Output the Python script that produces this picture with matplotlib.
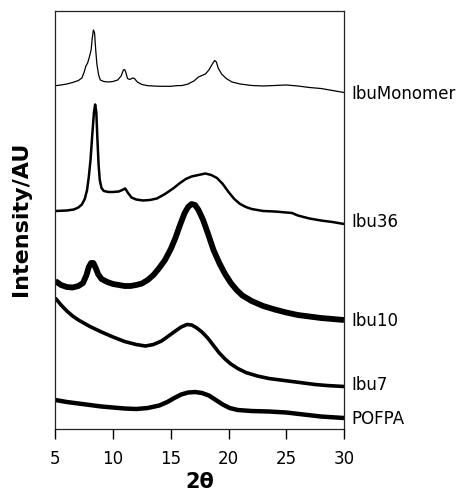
import matplotlib
matplotlib.use("Agg")
import matplotlib.pyplot as plt

# 2-theta positions and intensities (arbitrary units)
mono_x = [5.0, 5.5, 6.0, 6.5, 7.0, 7.3, 7.5, 7.65, 7.8, 7.95, 8.1, 8.2, 8.3, 8.4, 8.5, 8.6, 8.75, 8.9,
          9.2, 9.6, 10.0, 10.4, 10.7, 10.9, 11.0, 11.1, 11.25, 11.45, 11.7, 11.85, 12.1, 12.5, 13.0,
          14.0, 15.0, 15.5, 16.0, 16.5, 17.0, 17.4, 17.7, 18.0, 18.3, 18.6, 18.8, 18.95, 19.1, 19.4,
          19.8, 20.3, 21.0, 22.0, 23.0, 24.0, 25.0, 26.0, 27.0, 28.0, 29.0, 30.0]
mono_y = [343.3, 344, 345, 346.5, 348.5, 351, 357, 363, 366, 372, 379, 391, 399, 396, 379, 365, 354, 349,
          347.5, 347, 347.5, 349, 353, 359, 359.5, 357, 350.5, 349.5, 351, 350.5, 347, 344.5, 343.3,
          342.7, 342.7, 343.3, 343.5, 345, 348, 352, 353.5, 355, 359, 365, 368.5, 367, 361, 355,
          350.5, 347, 345, 343.5, 343, 343.5, 344, 343, 341.5, 340.5, 338.5, 336.5]

ibu36_x = [5.0, 6.0, 6.6, 7.0, 7.3, 7.55, 7.75, 7.9, 8.05, 8.2, 8.35, 8.45, 8.55, 8.65, 8.75, 8.85,
           9.0, 9.2, 9.6, 10.0, 10.5, 10.8, 11.05, 11.3, 11.6, 12.0, 12.6, 13.2, 13.8, 14.5, 15.2,
           15.8, 16.3, 16.8, 17.4, 18.0, 18.5, 19.0, 19.5, 20.0, 20.5, 21.0, 21.5, 22.0, 23.0, 24.0,
           25.0, 25.5, 26.0, 27.0, 28.0, 29.0, 30.0]
ibu36_y = [218, 218.5, 219.5, 221.5, 224.5, 230, 239, 252, 269, 294, 317, 324.5, 317, 289, 264, 249,
           241, 238, 237, 237, 237.5, 239, 240.5, 236, 231.5, 229.5, 228.5, 229, 230.5, 235, 240.5,
           246, 250, 252.5, 254, 255.5, 254, 251, 245, 237, 230, 225, 222, 220, 218, 217.5,
           216.5, 216, 213.5, 210.5, 208.5, 207, 205]

ibu10_x = [5.0, 5.5, 6.0, 6.5, 7.0, 7.4, 7.7, 7.9, 8.1, 8.3, 8.5, 8.7, 9.0, 9.5, 10.0, 10.5, 11.0,
           11.5, 12.0, 12.5, 13.0, 13.5, 14.0, 14.5, 15.0, 15.4, 15.8, 16.2, 16.5, 16.8, 17.1, 17.4,
           17.8, 18.2, 18.7, 19.2, 19.7, 20.2, 20.7, 21.2, 22.0, 23.0, 24.0, 25.0, 26.0, 27.0, 28.0,
           29.0, 30.0]
ibu10_y = [148, 144, 142, 141.5, 143, 146, 154, 162, 166, 166, 161, 155, 150, 147, 145, 144, 143,
           143, 144, 145.5, 149, 154, 161, 169, 180, 191, 204, 216, 222, 225, 224, 219,
           209, 196, 179, 166, 155, 146, 139, 133.5, 128, 123, 119.5, 116.5, 114, 112.5, 111,
           110, 109]

ibu7_x = [5.0, 5.5, 6.0, 6.5, 7.0, 8.0, 9.0, 10.0, 11.0, 12.0, 12.8, 13.5, 14.2, 14.8, 15.4, 15.9,
          16.4, 16.8, 17.2, 17.7, 18.2, 18.7, 19.2, 19.7, 20.2, 20.8, 21.5, 22.5, 23.5, 24.5, 25.5,
          26.5, 27.5, 28.5, 30.0]
ibu7_y = [131, 124, 118, 113, 109, 102.5, 97, 92, 87.5, 84.5, 83, 84.5, 88, 93, 98, 102,
          104.5, 104, 101.5, 97, 91, 83.5, 76, 70, 65, 60.5, 56.5, 53, 50.5, 49, 47.5,
          46, 44.5, 43.5, 42.5]

pofpa_x = [5.0, 6.0, 7.0, 8.0, 9.0, 10.0, 11.0, 12.0, 13.0, 14.0, 14.7, 15.3, 15.9, 16.5, 17.1,
           17.7, 18.3, 18.9, 19.5, 20.1, 20.8, 22.0, 23.5, 25.0, 26.5, 28.0, 30.0]
pofpa_y = [29, 27, 25.5, 24, 22.5, 21.5, 20.5, 20, 21, 23.5, 27, 31, 34.5, 36.5, 37,
           36, 33.5, 29, 24.5, 21, 19, 18, 17.5, 16.5, 14.5, 12.5, 11]

series_names = ["IbuMonomer", "Ibu36", "Ibu10", "Ibu7", "POFPA"]
label_y = [335.3, 207.3, 108.3, 44.3, 10.3]
xticks = [5, 10, 15, 20, 25, 30]

fig = plt.figure(figsize=(4.62, 4.97), dpi=100)
ax = fig.add_axes([0.1197, 0.1368, 0.6249, 0.8411])

series = [(mono_x, mono_y, 0.9), (ibu36_x, ibu36_y, 1.8), (ibu10_x, ibu10_y, 4.2),
          (ibu7_x, ibu7_y, 2.6), (pofpa_x, pofpa_y, 3.2)]
for (xs, ys, lw) in series:
    ax.plot(xs, ys, color="black", lw=lw, solid_joinstyle="round", solid_capstyle="butt")

for name, ly in zip(series_names, label_y):
    ax.text(30.65, ly, name, fontsize=12, va="center", ha="left", clip_on=False)

ax.set_xlim(5, 30)
ax.set_ylim(0, 418)
ax.set_xticks(xticks)
ax.set_xticklabels([str(t) for t in xticks], fontsize=12)
ax.set_yticks([])
ax.tick_params(axis="x", direction="out", length=7, width=1, pad=8)
for sp in ax.spines.values():
    sp.set_linewidth(0.9)
    sp.set_color("#222222")

ax.set_xlabel("2θ", fontsize=15, fontweight="bold", labelpad=3)
fig.text(0.0465, 1 - 219 / 497, "Intensity/AU", rotation=90, fontsize=16,
         fontweight="bold", ha="center", va="center")

fig.savefig("out.png", dpi=100)
